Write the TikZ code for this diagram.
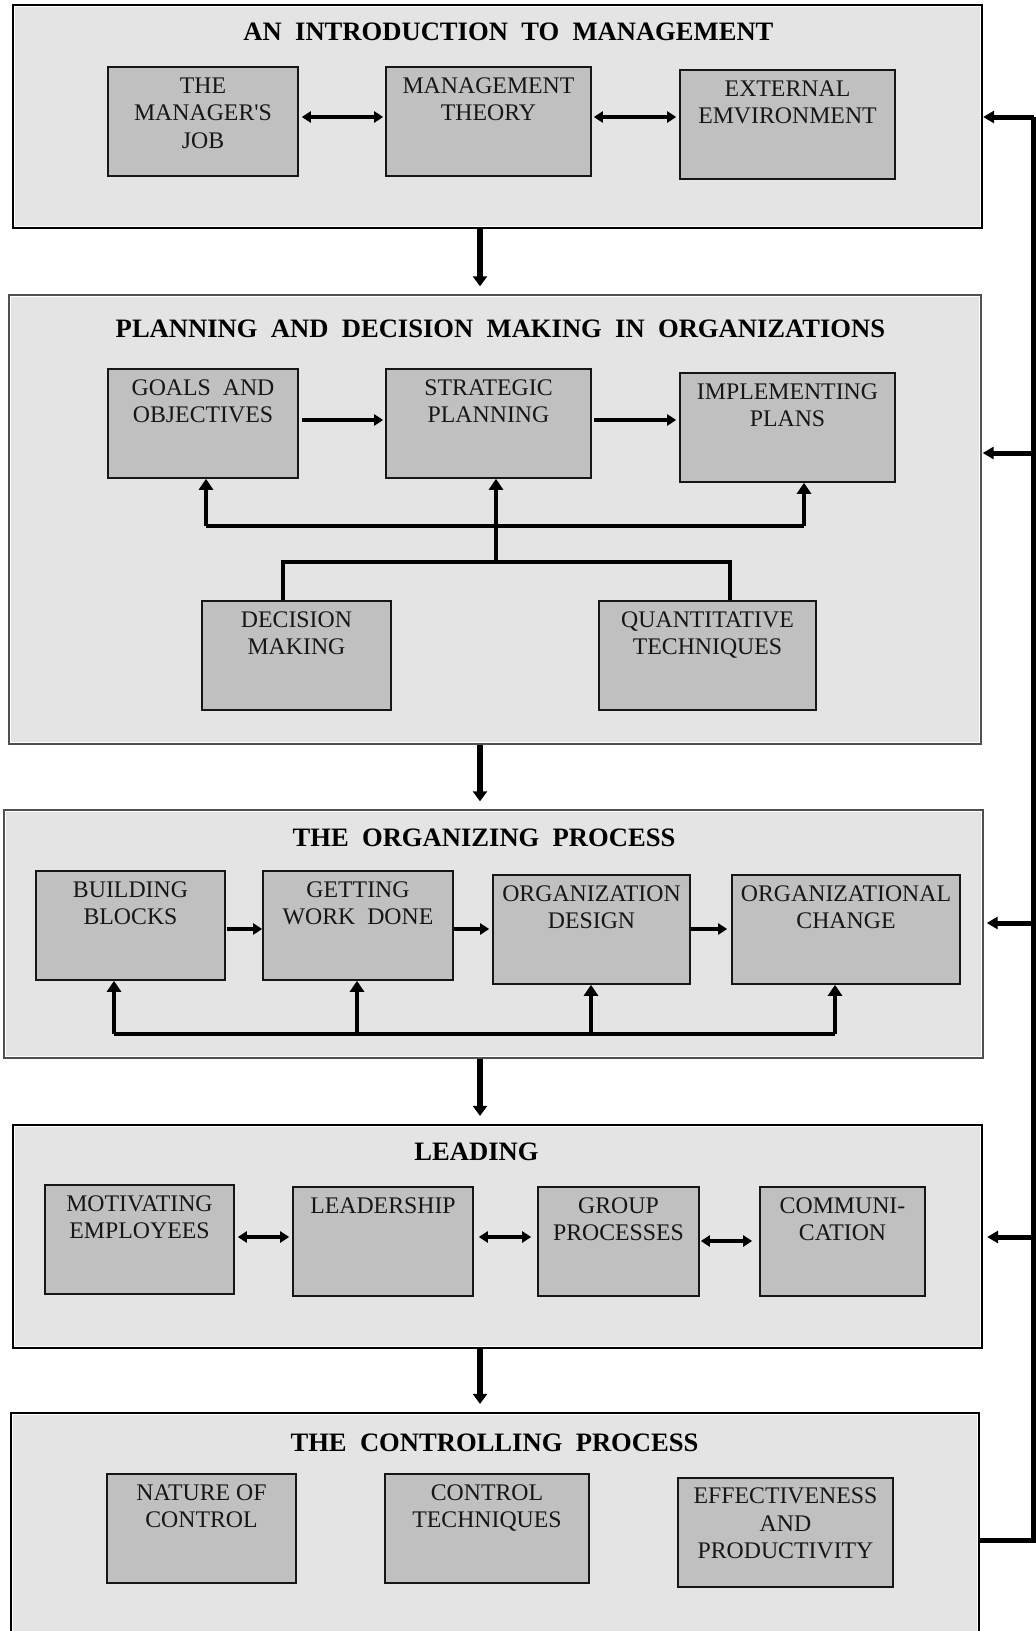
\documentclass[tikz,border=0pt]{standalone}
\usepackage{fontspec}
\setmainfont{Liberation Serif}[Ligatures=TeXOff]
\usetikzlibrary{arrows.meta}
\definecolor{panelfill}{RGB}{228,228,228}
\definecolor{boxfill}{RGB}{192,192,192}
\definecolor{panelgray}{RGB}{80,80,80}
\definecolor{ink}{RGB}{22,22,22}
\begin{document}
\begin{tikzpicture}[x=1pt,y=-1pt,
  panel/.style={draw=black, line width=2.2pt, fill=panelfill, rectangle, inner sep=0pt},
  thinpanel/.style={draw=panelgray, line width=1.4pt, fill=panelfill, rectangle, inner sep=0pt},
  inset/.style={draw=white, line width=1pt},
  topic/.style={draw=ink, line width=1.6pt, fill=boxfill, rectangle, inner sep=0pt, minimum height=109pt},
  % anchored on the baseline of the last line of the label
  topictext/.style={anchor=base, align=center, inner sep=0pt, text=ink, font=\fontsize{23.8}{27.6}\selectfont},
  heading/.style={anchor=base, inner sep=0pt, font=\fontsize{26.6}{30}\selectfont\bfseries},
  flow/.style={line width=5.5pt, -{Triangle[width=14pt,length=10pt]}},
  link/.style={line width=4.5pt, -{Triangle[width=11pt,length=9pt]}},
  twoway/.style={line width=4.5pt, {Triangle[width=11pt,length=9pt]}-{Triangle[width=11pt,length=9pt]}},
  bus/.style={line width=4.5pt},
  busup/.style={line width=4.5pt, -{Triangle[width=14pt,length=11pt]}},
  feedback/.style={line width=5pt, -{Triangle[width=12pt,length=11pt]}}
]
\useasboundingbox (0,0) rectangle (1036,1631);
\clip (0,0) rectangle (1036,1631);
\fill[white] (0,0) rectangle (1036,1631);

% ---------- section panels ----------
\node[panel, minimum width=969pt, minimum height=223pt] (s1) at (497.5,116.5) {};
\node[thinpanel, minimum width=972pt, minimum height=449pt] (s2) at (495,519.5) {};
\node[thinpanel, minimum width=979pt, minimum height=248pt] (s3) at (493.5,934) {};
\node[panel, minimum width=969pt, minimum height=223pt] (s4) at (497.5,1236.5) {};
\node[panel, minimum width=968pt, minimum height=267pt] (s5) at (495,1546.5) {};
\foreach \s in {s1,s4,s5}
  \draw[inset] ([shift={(3pt,-3pt)}]\s.north west) rectangle ([shift={(-3pt,3pt)}]\s.south east);
\foreach \s in {s2,s3}
  \draw[inset] ([shift={(2.5pt,-2.5pt)}]\s.north west) rectangle ([shift={(-2.5pt,2.5pt)}]\s.south east);

% ---------- headings ----------
\node[heading] (h1) at (508.5,40.7) {AN~~INTRODUCTION~~TO~~MANAGEMENT};
\node[heading] (h2) at (500.5,337) {PLANNING~~AND~~DECISION~~MAKING~~IN~~ORGANIZATIONS};
\node[heading] (h3) at (484,846) {THE~~ORGANIZING~~PROCESS};
\node[heading] (h4) at (476.5,1160) {LEADING};
\node[heading] (h5) at (494.5,1451) {THE~~CONTROLLING~~PROCESS};

% ---------- introduction ----------
\node[topic, minimum width=190pt] (mj) at (203,121.5) {};
\node[topic, minimum width=205pt] (mt) at (488.5,121.5) {};
\node[topic, minimum width=215pt] (ee) at (787.5,124.5) {};
\node[topictext] (mj-l) at (203,148.2) {THE\\MANAGER'S\\JOB};
\node[topictext] (mt-l) at (488.5,120.6) {MANAGEMENT\\THEORY};
\node[topictext] (ee-l) at (787.5,123.6) {EXTERNAL\\EMVIRONMENT};

% ---------- planning ----------
\node[topic, minimum width=190pt] (go) at (203,423.5) {};
\node[topic, minimum width=205pt] (sp) at (488.5,423.5) {};
\node[topic, minimum width=215pt] (ip) at (787.5,427.5) {};
\node[topic, minimum width=189pt] (dm) at (296.5,655.5) {};
\node[topic, minimum width=217pt] (qt) at (707.5,655.5) {};
\node[topictext] (go-l) at (203,422.6) {GOALS~~AND\\OBJECTIVES};
\node[topictext] (sp-l) at (488.5,422.6) {STRATEGIC\\PLANNING};
\node[topictext] (ip-l) at (787.5,426.6) {IMPLEMENTING\\PLANS};
\node[topictext] (dm-l) at (296.5,654.6) {DECISION\\MAKING};
\node[topictext] (qt-l) at (707.5,654.6) {QUANTITATIVE\\TECHNIQUES};

% ---------- organizing ----------
\node[topic, minimum width=189pt] (bb) at (130.5,925.5) {};
\node[topic, minimum width=190pt] (gw) at (358,925.5) {};
\node[topic, minimum width=197pt] (od) at (591.5,929.5) {};
\node[topic, minimum width=228pt] (oc) at (846,929.5) {};
\node[topictext] (bb-l) at (130.5,924.6) {BUILDING\\BLOCKS};
\node[topictext] (gw-l) at (358,924.6) {GETTING\\WORK~~DONE};
\node[topictext] (od-l) at (591.5,928.6) {ORGANIZATION\\DESIGN};
\node[topictext] (oc-l) at (846,928.6) {ORGANIZATIONAL\\CHANGE};

% ---------- leading ----------
\node[topic, minimum width=189pt] (me) at (139.5,1239.5) {};
\node[topic, minimum width=180pt] (ld) at (383,1241.5) {};
\node[topic, minimum width=161pt] (gp) at (618.5,1241.5) {};
\node[topic, minimum width=165pt] (cm) at (842.5,1241.5) {};
\node[topictext] (me-l) at (139.5,1238.6) {MOTIVATING\\EMPLOYEES};
\node[topictext] (ld-l) at (383,1213) {LEADERSHIP};
\node[topictext] (gp-l) at (618.5,1240.6) {GROUP\\PROCESSES};
\node[topictext] (cm-l) at (842.5,1240.6) {COMMUNI-\\CATION};

% ---------- controlling ----------
\node[topic, minimum width=189pt] (nc) at (201.5,1528.5) {};
\node[topic, minimum width=204pt] (ct) at (487,1528.5) {};
\node[topic, minimum width=215pt] (ep) at (785.5,1532.5) {};
\node[topictext] (nc-l) at (201.5,1527.6) {NATURE OF\\CONTROL};
\node[topictext] (ct-l) at (487,1527.6) {CONTROL\\TECHNIQUES};
\node[topictext] (ep-l) at (785.5,1558.7) {EFFECTIVENESS\\AND\\PRODUCTIVITY};

% ---------- row heights for the links ----------
\coordinate (r1) at (0,117);
\coordinate (r2) at (0,420);
\coordinate (r3) at (0,929);
\coordinate (r4) at (0,1237);
\coordinate (r4b) at (0,1241);

% links inside the sections
\draw[twoway, shorten <=3pt, shorten >=2pt] (mj.east |- r1) -- (mt.west |- r1);
\draw[twoway, shorten <=2pt, shorten >=3pt] (mt.east |- r1) -- (ee.west |- r1);
\draw[link, shorten <=3pt, shorten >=2pt] (go.east |- r2) -- (sp.west |- r2);
\draw[link, shorten <=2pt, shorten >=3pt] (sp.east |- r2) -- (ip.west |- r2);
\draw[link, shorten <=1pt, shorten >=0pt] (bb.east |- r3) -- (gw.west |- r3);
\draw[link, shorten <=0pt, shorten >=3pt] (gw.east |- r3) -- (od.west |- r3);
\draw[link, shorten <=0pt, shorten >=4pt] (od.east |- r3) -- (oc.west |- r3);
\draw[twoway, shorten <=3pt, shorten >=3pt] (me.east |- r4) -- (ld.west |- r4);
\draw[twoway, shorten <=5pt, shorten >=6pt] (ld.east |- r4) -- (gp.west |- r4);
\draw[twoway, shorten <=1pt, shorten >=7pt] (gp.east |- r4b) -- (cm.west |- r4b);

% planning: decision making and quantitative techniques feed all three plans
\coordinate (ul) at (206,526);
\coordinate (ur) at (804,526);
\coordinate (ll) at (283,562);
\coordinate (lr) at (730,562);
\coordinate (lm) at (496,562);
\draw[bus] (ll |- dm.north) -- (ll) -- (lr) -- (lr |- qt.north);
\draw[bus] (ul) -- (ur);
\draw[busup] (ul) -- (ul |- go.south);
\draw[busup] (ur) -- (ur |- ip.south);
\draw[busup] (lm) -- (lm |- sp.south);

% organizing: common bus under the four boxes
\coordinate (o1) at (114,1034);
\coordinate (o2) at (357,1034);
\coordinate (o3) at (591,1034);
\coordinate (o4) at (835,1034);
\draw[bus] (o1) -- (o4);
\draw[busup] (o1) -- (o1 |- bb.south);
\draw[busup] (o2) -- (o2 |- gw.south);
\draw[busup] (o3) -- (o3 |- od.south);
\draw[busup] (o4) -- (o4 |- oc.south);

% main flow between the sections
\coordinate (dn) at (480,0);
\draw[flow, shorten >=8pt] (s1.south -| dn) -- (s2.north -| dn);
\draw[flow, shorten >=8pt] (s2.south -| dn) -- (s3.north -| dn);
\draw[flow, shorten >=8pt] (s3.south -| dn) -- (s4.north -| dn);
\draw[flow, shorten >=8pt] (s4.south -| dn) -- (s5.north -| dn);

% feedback loop from controlling back to every earlier section
\coordinate (f1) at (1033.5,117);
\coordinate (f2) at (1033.5,453);
\coordinate (f3) at (1033.5,923);
\coordinate (f4) at (1033.5,1237);
\coordinate (f5) at (1033.5,1540);
\draw[line width=5pt] (s5.east |- f5) -- (f5) -- (f1);
\draw[feedback] (f1) -- (s1.east |- f1);
\draw[feedback, shorten >=1pt] (f2) -- (s2.east |- f2);
\draw[feedback, shorten >=3pt] (f3) -- (s3.east |- f3);
\draw[feedback, shorten >=4pt] (f4) -- (s4.east |- f4);
\end{tikzpicture}
\end{document}
